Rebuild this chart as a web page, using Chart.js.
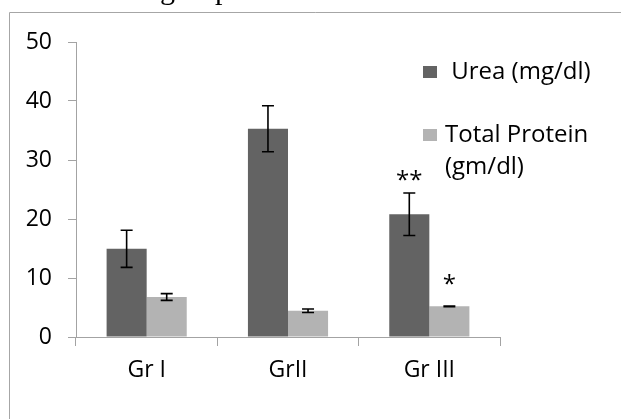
<!DOCTYPE html>
<html>
<head>
<meta charset="utf-8">
<script src="https://cdn.jsdelivr.net/npm/chart.js@4.4.0/dist/chart.umd.min.js"></script>
<style>
  html, body { margin: 0; padding: 0; background: #fff; }
  #wrap { position: relative; width: 621px; height: 419px; }
</style>
</head>
<body>
<div id="wrap"><canvas id="c" width="621" height="419"></canvas></div>
<script>
// Groups and measured values (mean ± SE)
const groups = ['Gr I', 'GrII', 'Gr III'];
const urea = [14.95, 35.3, 20.8];
const ureaErr = [3.15, 3.9, 3.6];
const protein = [6.78, 4.45, 5.2];
const proteinErr = [0.57, 0.3, 0.05];
const yTicks = [0, 10, 20, 30, 40, 50];
const seriesNames = [' Urea (mg/dl)', 'Total Protein (gm/dl)'];
// significance marks: group index, series index, mark
const marks = [
  { group: 2, series: 0, text: '**' },
  { group: 2, series: 1, text: '*' }
];
const headingText = 'group';

const FONT = "'Open Sans', 'DejaVu Sans', sans-serif";
const AXIS_GRAY = '#a3a3a3';
const errors = [ureaErr, proteinErr];

// page frame and the cut-off heading line above it
const framePlugin = {
  id: 'frame',
  beforeDraw(chart) {
    const ctx = chart.ctx;
    ctx.save();
    ctx.fillStyle = '#fff';
    ctx.fillRect(0, 0, chart.width, chart.height);
    ctx.strokeStyle = '#a6a6a6';
    ctx.lineWidth = 1;
    ctx.beginPath();
    ctx.moveTo(9.5, chart.height);
    ctx.lineTo(9.5, 12.5);
    ctx.lineTo(chart.width, 12.5);
    ctx.stroke();
    ctx.fillStyle = '#000';
    ctx.font = "30px 'Liberation Serif', serif";
    ctx.textBaseline = 'alphabetic';
    ctx.textAlign = 'left';
    ctx.fillText(headingText, 160, -1);
    ctx.restore();
  }
};

// error bars and significance asterisks
const errorBarPlugin = {
  id: 'errorBars',
  afterDatasetsDraw(chart, args, opts) {
    const ctx = chart.ctx;
    const y = chart.scales.y;
    ctx.save();
    ctx.strokeStyle = '#000';
    ctx.lineWidth = 1.6;
    const tops = [];
    chart.data.datasets.forEach((ds, i) => {
      const meta = chart.getDatasetMeta(i);
      tops[i] = [];
      meta.data.forEach((bar, j) => {
        const v = ds.data[j];
        const e = errors[i][j];
        const yt = y.getPixelForValue(v + e);
        const yb = y.getPixelForValue(v - e);
        tops[i][j] = yt;
        const cw = opts.capWidth / 2;
        ctx.beginPath();
        ctx.moveTo(bar.x, yt);
        ctx.lineTo(bar.x, yb);
        ctx.moveTo(bar.x - cw, yt);
        ctx.lineTo(bar.x + cw, yt);
        ctx.moveTo(bar.x - cw, yb);
        ctx.lineTo(bar.x + cw, yb);
        ctx.stroke();
      });
    });
    ctx.fillStyle = '#000';
    ctx.font = '24px ' + FONT;
    ctx.textAlign = 'center';
    ctx.textBaseline = 'alphabetic';
    marks.forEach((m, k) => {
      const bar = chart.getDatasetMeta(m.series).data[m.group];
      ctx.fillText(m.text, bar.x, tops[m.series][m.group] - opts.markGap[k]);
    });
    ctx.restore();
  }
};

// legend on the right, with word wrapping
const sideLegendPlugin = {
  id: 'sideLegend',
  afterDraw(chart, args, opts) {
    const ctx = chart.ctx;
    ctx.save();
    ctx.font = opts.fontSize + 'px ' + FONT;
    ctx.textBaseline = 'middle';
    ctx.textAlign = 'left';
    let yc = opts.top;
    chart.data.datasets.forEach(ds => {
      ctx.fillStyle = ds.backgroundColor;
      ctx.fillRect(opts.left, yc - 6, 14, 12);
      const words = ds.label.split(' ');
      const lines = [];
      let cur = '';
      words.forEach(w => {
        const t = cur === '' && w !== '' ? w : cur + ' ' + w;
        if (cur !== '' && ctx.measureText(t).width > opts.maxWidth) {
          lines.push(cur);
          cur = w;
        } else {
          cur = cur === '' && w === '' ? ' ' : (cur === ' ' ? ' ' + w : t);
        }
      });
      lines.push(cur);
      ctx.fillStyle = '#000';
      lines.forEach((ln, k) => {
        ctx.fillText(ln, opts.left + 22, yc + k * opts.lineHeight);
      });
      yc += opts.itemGap;
    });
    ctx.restore();
  }
};

new Chart(document.getElementById('c'), {
  type: 'bar',
  data: {
    labels: groups,
    datasets: [
      { label: seriesNames[0], data: urea, backgroundColor: '#636363' },
      { label: seriesNames[1], data: protein, backgroundColor: '#b3b3b3' }
    ]
  },
  options: {
    responsive: false,
    animation: false,
    events: [],
    layout: { padding: { top: 42, right: 121, left: 0, bottom: 0 } },
    datasets: { bar: { categoryPercentage: 0.567, barPercentage: 1.0, borderWidth: 0 } },
    plugins: {
      legend: { display: false },
      tooltip: { enabled: false },
      errorBars: { capWidth: 12, markGap: [5, 14] },
      sideLegend: { left: 423, top: 72, fontSize: 24, lineHeight: 32, itemGap: 63, maxWidth: 165 }
    },
    scales: {
      x: {
        afterFit: s => { s.height = 82; },
        grid: { display: true, offset: true, drawOnChartArea: false, drawTicks: true, tickLength: 9, color: AXIS_GRAY },
        border: { display: true, color: AXIS_GRAY, width: 1 },
        ticks: { color: '#000', font: { family: FONT, size: 23 }, padding: 11, maxRotation: 0 }
      },
      y: {
        min: 0, max: 50,
        afterFit: s => { s.width = 76; },
        afterBuildTicks: s => { s.ticks = yTicks.map(v => ({ value: v })); },
        grid: { display: true, drawOnChartArea: false, drawTicks: true, tickLength: 8, color: AXIS_GRAY },
        border: { display: true, color: AXIS_GRAY, width: 1 },
        ticks: { color: '#000', font: { family: FONT, size: 23 }, padding: 16 }
      }
    }
  },
  plugins: [framePlugin, errorBarPlugin, sideLegendPlugin]
});
</script>
</body>
</html>
